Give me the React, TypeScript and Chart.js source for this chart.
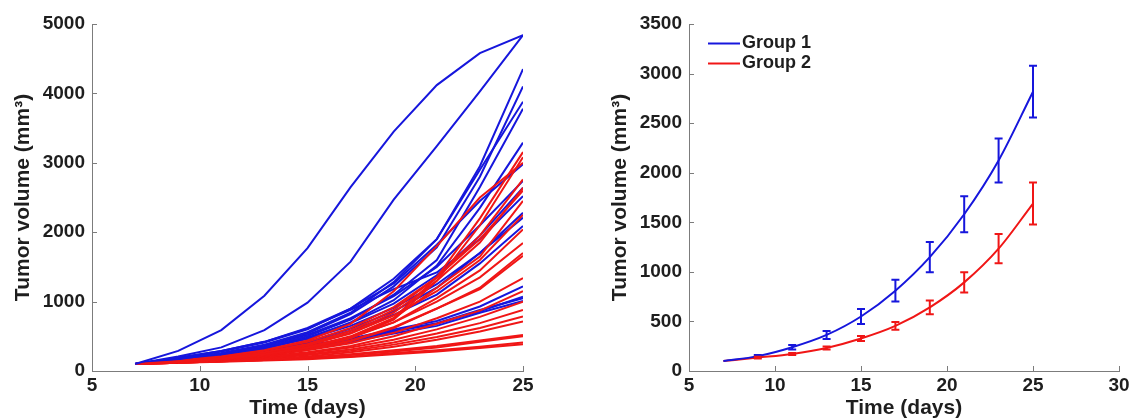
import React, { useEffect, useRef } from 'react';
import { Chart, registerables } from 'chart.js';

Chart.register(...registerables);

// ---------- data ----------
const DAYS = [7, 9, 11, 13, 15, 17, 19, 21, 23, 25];

// Individual tumour curves, group 1 (blue)
const GROUP1_CURVES: number[][] = [
  [100, 290, 590, 1085, 1770, 2650, 3450, 4120, 4580, 4840],
  [100, 210, 340, 590, 985, 1575, 2470, 3240, 4030, 4840],
  [100, 170, 260, 380, 560, 840, 1280, 1900, 2950, 4350],
  [100, 160, 240, 360, 540, 820, 1220, 1780, 2800, 4100],
  [100, 180, 280, 410, 600, 900, 1330, 1900, 2900, 3880],
  [100, 160, 230, 340, 500, 740, 1100, 1600, 2650, 3780],
  [100, 150, 220, 320, 470, 700, 1020, 1520, 2350, 3290],
  [100, 190, 290, 420, 620, 900, 1260, 1820, 2450, 2980],
  [100, 170, 250, 360, 520, 760, 1080, 1500, 2100, 2740],
  [100, 160, 230, 330, 480, 690, 970, 1380, 1950, 2640],
  [100, 190, 290, 420, 610, 880, 1180, 1420, 1900, 2520],
  [100, 150, 210, 300, 420, 610, 860, 1200, 1700, 2280],
  [100, 160, 230, 330, 460, 650, 910, 1250, 1700, 2210],
  [100, 140, 200, 280, 400, 580, 810, 1100, 1550, 2090],
  [100, 150, 200, 270, 360, 470, 600, 720, 930, 1220],
  [100, 140, 190, 250, 340, 440, 570, 680, 860, 1070],
  [100, 150, 210, 280, 370, 460, 580, 690, 880, 1050],
  [100, 140, 180, 240, 320, 420, 540, 650, 840, 1010],
];

// Individual tumour curves, group 2 (red)
const GROUP2_CURVES: number[][] = [
  [100, 140, 180, 240, 340, 490, 760, 1350, 2200, 3155],
  [100, 130, 170, 230, 330, 470, 740, 1300, 2100, 3080],
  [100, 150, 210, 300, 440, 680, 1150, 1800, 2500, 3000],
  [100, 140, 190, 270, 390, 580, 880, 1350, 1950, 2760],
  [100, 140, 190, 260, 370, 550, 840, 1300, 1850, 2640],
  [100, 150, 210, 290, 420, 620, 920, 1350, 1900, 2600],
  [100, 130, 170, 240, 340, 500, 760, 1200, 1650, 2450],
  [100, 140, 180, 260, 370, 540, 800, 1150, 1600, 2250],
  [100, 130, 170, 240, 340, 480, 700, 1050, 1450, 2040],
  [100, 140, 180, 250, 350, 490, 700, 1000, 1350, 1845],
  [100, 130, 170, 220, 310, 430, 620, 900, 1200, 1700],
  [100, 130, 170, 230, 320, 440, 630, 900, 1180, 1660],
  [100, 130, 160, 220, 300, 400, 550, 760, 1000, 1340],
  [100, 130, 160, 210, 270, 360, 500, 680, 870, 1150],
  [100, 130, 160, 200, 260, 340, 450, 600, 780, 1000],
  [100, 130, 150, 190, 240, 310, 410, 540, 690, 880],
  [100, 120, 150, 180, 230, 290, 380, 490, 620, 785],
  [100, 120, 140, 170, 210, 270, 350, 450, 570, 713],
  [100, 120, 140, 160, 190, 240, 300, 360, 440, 520],
  [100, 120, 140, 160, 190, 230, 280, 340, 420, 500],
  [100, 120, 140, 160, 180, 210, 260, 300, 350, 410],
  [100, 120, 135, 150, 170, 200, 240, 280, 330, 385],
];

// Group means and error bars (right panel)
const GROUP_LABELS = ['Group 1', 'Group 2'];
const G1_MEAN = [100, 150, 240, 364, 550, 810, 1148, 1581, 2124, 2817];
const G1_ERR = [0, 12, 22, 40, 75, 110, 153, 182, 222, 261];
const G2_MEAN = [100, 135, 172, 233, 328, 455, 642, 894, 1234, 1689];
const G2_ERR = [0, 8, 10, 15, 25, 40, 69, 101, 148, 212];

const LEFT_X_MAX = 25;
const LEFT_Y_MAX = 5000;
const LEFT_Y_STEP = 1000;
const RIGHT_X_MAX = 30;
const RIGHT_Y_MAX = 3500;
const RIGHT_Y_STEP = 500;
const X_STEP = 5;
const X_MIN = 5;

const X_TITLE = 'Time (days)';
const Y_TITLE = 'Tumor volume (mm³)';

// ---------- styles ----------
const FONT = "'Liberation Sans', Arial, Helvetica, sans-serif";
const AXIS_GRAY = '#7c7c7c';
const TEXT = '#1e1e1e';
const BLUE = 'rgb(22, 22, 220)';
const RED = 'rgb(240, 22, 22)';

const tickMarks = {
  id: 'tickMarks',
  afterDraw(chart: any) {
    const { ctx, chartArea, scales } = chart;
    const xs = scales.x;
    const ys = scales.y;
    ctx.save();
    ctx.strokeStyle = AXIS_GRAY;
    ctx.lineWidth = 1;
    ctx.beginPath();
    for (const t of xs.ticks) {
      const px = Math.round(xs.getPixelForValue(t.value)) + 0.5;
      ctx.moveTo(px, chartArea.bottom);
      ctx.lineTo(px, chartArea.bottom - 5);
    }
    for (const t of ys.ticks) {
      const py = Math.round(ys.getPixelForValue(t.value)) + 0.5;
      ctx.moveTo(chartArea.left, py);
      ctx.lineTo(chartArea.left + 5, py);
    }
    ctx.stroke();
    ctx.restore();
  },
};

const errorBars = {
  id: 'errorBars',
  afterDatasetsDraw(chart: any) {
    const { ctx, scales } = chart;
    const xs = scales.x;
    const ys = scales.y;
    chart.data.datasets.forEach((ds: any) => {
      const errs: number[] = ds.errors || [];
      ctx.save();
      ctx.strokeStyle = ds.borderColor;
      ctx.lineWidth = 2;
      ctx.beginPath();
      ds.data.forEach((p: any, i: number) => {
        const e = errs[i];
        if (!e) return;
        const px = xs.getPixelForValue(p.x);
        const top = ys.getPixelForValue(p.y + e);
        const bot = ys.getPixelForValue(p.y - e);
        ctx.moveTo(px, top);
        ctx.lineTo(px, bot);
        ctx.moveTo(px - 4, top);
        ctx.lineTo(px + 4, top);
        ctx.moveTo(px - 4, bot);
        ctx.lineTo(px + 4, bot);
      });
      ctx.stroke();
      ctx.restore();
    });
  },
};

const insideLegend = {
  id: 'insideLegend',
  afterDraw(chart: any) {
    const { ctx, chartArea } = chart;
    ctx.save();
    ctx.font = `bold 18px ${FONT}`;
    ctx.textBaseline = 'middle';
    ctx.textAlign = 'left';
    chart.data.datasets.forEach((ds: any, i: number) => {
      const y = chartArea.top + 19 + i * 20;
      const x0 = chartArea.left + 19;
      ctx.strokeStyle = ds.borderColor;
      ctx.lineWidth = 2;
      ctx.beginPath();
      ctx.moveTo(x0, y + 0.5);
      ctx.lineTo(x0 + 32, y + 0.5);
      ctx.stroke();
      ctx.fillStyle = TEXT;
      ctx.fillText(ds.label, x0 + 34, y);
    });
    ctx.restore();
  },
};

const plainNumber = (v: any) => String(v);

function makeScales(xMax: number, yMax: number, yStep: number, yWidth: number, yTitlePad: number) {
  const tickFont = { family: FONT, size: 19, weight: 'bold' as const };
  const titleFont = { family: FONT, size: 21, weight: 'bold' as const, lineHeight: 1 };
  return {
    x: {
      type: 'linear' as const,
      min: X_MIN,
      max: xMax,
      ticks: { stepSize: X_STEP, padding: 3, color: TEXT, font: tickFont, maxRotation: 0, autoSkip: false, callback: plainNumber },
      grid: { display: false, drawTicks: false },
      border: { display: true, color: AXIS_GRAY, width: 1 },
      title: { display: true, text: X_TITLE, color: TEXT, font: titleFont, padding: { top: 0, bottom: 0 } },
      afterFit: (s: any) => {
        s.height = 48;
      },
    },
    y: {
      type: 'linear' as const,
      min: 0,
      max: yMax,
      ticks: { stepSize: yStep, padding: 7, color: TEXT, font: tickFont, callback: plainNumber },
      grid: { display: false, drawTicks: false },
      border: { display: true, color: AXIS_GRAY, width: 1 },
      title: { display: true, text: Y_TITLE, color: TEXT, font: titleFont, padding: { top: yTitlePad, bottom: 0 } },
      afterFit: (s: any) => {
        s.width = yWidth;
      },
    },
  };
}

function toPoints(vals: number[]) {
  return DAYS.map((d, i) => ({ x: d, y: vals[i] }));
}

export default function App() {
  const leftRef = useRef<HTMLCanvasElement | null>(null);
  const rightRef = useRef<HTMLCanvasElement | null>(null);

  useEffect(() => {
    const datasets: any[] = [];
    const n = Math.max(GROUP1_CURVES.length, GROUP2_CURVES.length);
    for (let i = 0; i < n; i++) {
      if (GROUP1_CURVES[i]) {
        datasets.push({
          data: toPoints(GROUP1_CURVES[i]),
          borderColor: BLUE,
          borderWidth: 2,
          pointRadius: 0,
          tension: 0,
          fill: false,
        });
      }
      if (GROUP2_CURVES[i]) {
        datasets.push({
          data: toPoints(GROUP2_CURVES[i]),
          borderColor: RED,
          borderWidth: 2,
          pointRadius: 0,
          tension: 0,
          fill: false,
        });
      }
    }

    const left = new Chart(leftRef.current as HTMLCanvasElement, {
      type: 'line',
      data: { datasets },
      options: {
        responsive: false,
        animation: false,
        layout: { padding: { top: 24, right: 43, bottom: 0, left: 0 } },
        plugins: { legend: { display: false }, tooltip: { enabled: false } },
        scales: makeScales(LEFT_X_MAX, LEFT_Y_MAX, LEFT_Y_STEP, 92, 12.5) as any,
      },
      plugins: [tickMarks],
    });

    const right = new Chart(rightRef.current as HTMLCanvasElement, {
      type: 'line',
      data: {
        datasets: [
          {
            label: GROUP_LABELS[0],
            data: toPoints(G1_MEAN),
            errors: G1_ERR,
            borderColor: BLUE,
            borderWidth: 2,
            pointRadius: 0,
            cubicInterpolationMode: 'monotone',
            fill: false,
          } as any,
          {
            label: GROUP_LABELS[1],
            data: toPoints(G2_MEAN),
            errors: G2_ERR,
            borderColor: RED,
            borderWidth: 2,
            pointRadius: 0,
            cubicInterpolationMode: 'monotone',
            fill: false,
          } as any,
        ],
      },
      options: {
        responsive: false,
        animation: false,
        layout: { padding: { top: 24, right: 14, bottom: 0, left: 0 } },
        plugins: { legend: { display: false }, tooltip: { enabled: false } },
        scales: makeScales(RIGHT_X_MAX, RIGHT_Y_MAX, RIGHT_Y_STEP, 123, 43.5) as any,
      },
      plugins: [errorBars, tickMarks, insideLegend],
    });

    return () => {
      left.destroy();
      right.destroy();
    };
  }, []);

  return (
    <div style={{ position: 'fixed', left: 0, top: 0, width: 1133, height: 419, background: '#fff', overflow: 'hidden' }}>
      <canvas ref={leftRef} width={566} height={419} style={{ position: 'absolute', left: 0, top: 0, width: 566, height: 419 }} />
      <canvas ref={rightRef} width={567} height={419} style={{ position: 'absolute', left: 566, top: 0, width: 567, height: 419 }} />
    </div>
  );
}
